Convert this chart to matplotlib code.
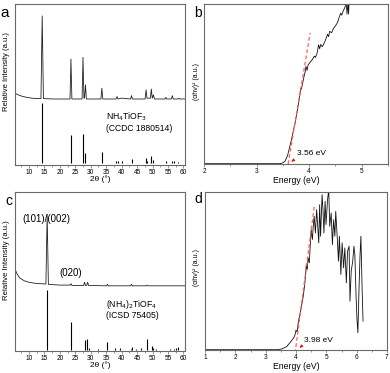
import numpy as np
import matplotlib.pyplot as plt
from matplotlib.ticker import MultipleLocator

plt.rcParams['font.family'] = ['Liberation Sans', 'DejaVu Sans']

# --- a: NH4TiOF3 measured pattern (2theta, relative intensity %) ---
a_exp_x = [5.5, 6.5, 8.0, 10.0, 12.0, 13.9, 14.3, 14.7, 18.0, 21.0, 23.3, 23.6, 23.9,
           27.2, 27.5, 27.8, 28.0, 28.3, 28.6, 31.0, 33.3, 33.6, 33.9, 36.0, 38.2, 38.5,
           38.8, 40.0, 42.9, 43.2, 43.5, 45.5, 47.6, 47.9, 48.2, 49.3, 49.6, 49.9, 50.3,
           50.6, 52.0, 54.0, 54.3, 54.6, 56.1, 56.4, 56.7, 58.2, 58.5, 58.8, 60.5]
a_exp_y = [7, 5, 3, 1.5, 0.5, 0.5, 100, 0.5, 0, 0, 0, 48, 0,
           0, 50, 1, 1, 17, 0, 0, 0, 13, 0, 0, 0, 3,
           0, 1, 0, 4, 0, 0, 0, 11, 1, 1, 12, 1, 5,
           0, 0, 0, 2, 0, 0, 4, 0, 0, 1, 0, 0]
# --- a: reference sticks, CCDC 1880514 ---
a_ref_x = [14.3, 23.6, 27.5, 28.3, 33.6, 38.3, 38.9, 40.1, 43.2, 47.9, 48.3, 49.6,
           50.3, 54.3, 56.3, 56.8, 58.3]
a_ref_y = [100, 46, 49, 16, 18, 3, 3, 3, 6, 9, 4, 11, 5, 3, 4, 3, 2]

# --- c: (NH4)2TiOF4 measured pattern ---
c_exp_x = [5.5, 6.0, 7.0, 8.5, 10.0, 12.0, 15.5, 15.9, 16.3, 20.0, 23.3, 23.6, 23.9,
           27.7, 28.0, 28.3, 28.7, 29.0, 29.3, 35.1, 35.4, 35.7, 42.9, 43.2, 43.5,
           48.0, 48.3, 48.6, 60.5]
c_exp_y = [24, 18, 11, 7, 5, 3.5, 2.5, 100, 2, 1, 1, 3, 0.5,
           0.5, 5, 0.5, 0.5, 5, 0.5, 0, 2, 0, 0, 2, 0,
           0, 1, 0, 0]
# --- c: reference sticks, ICSD 75405 ---
c_ref_x = [15.9, 23.6, 28.1, 28.7, 29.3, 32.3, 35.4, 37.8, 39.4, 42.9, 43.4, 44.6,
           46.3, 48.3, 49.8, 50.2, 51.2, 55.6, 56.8, 57.6, 58.3]
c_ref_y = [100, 47, 17, 19, 4, 2, 13, 3, 3, 2, 5, 2, 4, 18, 7, 4, 2, 2, 2, 3, 5]

# --- b: Tauc plot NH4TiOF3 ---
b_E = [2.00, 3.44, 3.49, 3.54, 3.59, 3.66, 3.73, 3.79, 3.84, 3.85, 3.87, 3.90, 3.93,
       3.94, 3.96, 3.98, 4.01, 4.06, 4.10, 4.12, 4.15, 4.18, 4.20, 4.22, 4.25, 4.29,
       4.32, 4.35, 4.37, 4.39, 4.43, 4.46, 4.50, 4.54, 4.57, 4.60, 4.62, 4.65, 4.68,
       4.70, 4.71, 4.72, 4.74, 4.75, 4.76]
b_A = [0.002, 0.002, 0.006, 0.017, 0.053, 0.147, 0.253, 0.362, 0.474, 0.467, 0.495,
       0.543, 0.585, 0.611, 0.585, 0.619, 0.632, 0.653, 0.674, 0.666, 0.691, 0.745,
       0.720, 0.747, 0.733, 0.758, 0.783, 0.811, 0.796, 0.829, 0.821, 0.846, 0.863,
       0.884, 0.916, 0.943, 0.930, 0.958, 0.979, 1.002, 0.990, 0.937, 1.010, 0.937, 1.02]
b_fit_E = [3.60, 4.02]
b_fit_A = [0.0, 0.82]
b_gap = 3.56

# --- d: Tauc plot (NH4)2TiOF4 ---
d_E = [1.00, 3.42, 3.55, 3.69, 3.80, 3.92, 3.97, 4.00, 4.04, 4.08, 4.13, 4.15, 4.19,
       4.24, 4.28, 4.31, 4.34, 4.37, 4.40, 4.44, 4.47, 4.50, 4.54, 4.57, 4.60, 4.64,
       4.68, 4.71, 4.75, 4.78, 4.81, 4.86, 4.89, 4.92, 4.96, 4.99, 5.04, 5.08, 5.11,
       5.16, 5.20, 5.24, 5.28, 5.31, 5.36, 5.40, 5.43, 5.48, 5.52, 5.57, 5.61, 5.66,
       5.70, 5.75, 5.78, 5.82, 5.87, 5.91, 5.94, 5.98, 6.01, 6.04, 6.08, 6.11, 6.14,
       6.18, 6.21]
d_A = [0.002, 0.002, 0.008, 0.021, 0.046, 0.076, 0.097, 0.126, 0.114, 0.183, 0.225,
       0.246, 0.288, 0.341, 0.404, 0.457, 0.541, 0.509, 0.583, 0.552, 0.667, 0.762,
       0.699, 0.787, 0.846, 0.741, 0.888, 0.804, 0.678, 0.920, 0.720, 0.983, 0.888,
       0.741, 0.941, 0.794, 0.952, 1.015, 0.783, 0.867, 0.667, 0.825, 0.720, 0.878,
       0.709, 0.562, 0.720, 0.478, 0.678, 0.520, 0.646, 0.425, 0.625, 0.657, 0.309,
       0.499, 0.562, 0.657, 0.604, 0.341, 0.194, 0.109, 0.404, 0.594, 0.720, 0.383,
       0.183]
d_fit_E = [3.97, 4.61]
d_fit_A = [-0.02, 0.92]
d_gap = 3.98

W, H = 390, 373
fig = plt.figure(figsize=(3.9, 3.73), dpi=100)


def box(l, t, r, b):
    return [l / W, 1 - b / H, (r - l) / W, (b - t) / H]


frame = '#6a6a6a'


def style(ax):
    for s in ax.spines.values():
        s.set_color(frame)
        s.set_linewidth(0.8)
    ax.set_yticks([])
    ax.tick_params(axis='x', which='both', direction='out', color=frame,
                   labelsize=4.7, pad=1.2, width=0.5)
    ax.tick_params(axis='x', which='major', length=2)
    ax.tick_params(axis='x', which='minor', length=1.2)


def xrd(ax, ex, ey, rx, ry, e_base, e_scale, r_base, r_scale):
    ax.plot(ex, e_base + np.array(ey) * e_scale / 100, color='#222222', lw=0.6)
    ax.vlines(rx, r_base, r_base + np.array(ry) * r_scale / 100, color='black', lw=0.8)
    ax.set_xlim(5.5, 60.5)
    ax.set_ylim(0, 1)
    ax.xaxis.set_minor_locator(MultipleLocator(2.5))
    ax.set_xticks(np.arange(10, 61, 5))
    ax.set_xlabel('2θ (°)', fontsize=6, labelpad=-0.5)
    style(ax)


def tauc(ax, E, A, fE, fA, gap, xlim, tx, ty, arr_from, arr_to):
    ax.plot(E, A, color='#111111', lw=0.6)
    ax.plot(fE, fA, color='#ff6060', lw=0.9, ls=(0, (3, 2)))
    ax.annotate('', xy=arr_to, xytext=arr_from,
                arrowprops=dict(arrowstyle='-|>', color='red', lw=0.6,
                                mutation_scale=4))
    ax.text(tx, ty, f'{gap:.2f} eV', fontsize=6, va='center', ha='left')
    ax.set_xlim(*xlim)
    ax.set_ylim(0, 1)
    ax.xaxis.set_major_locator(MultipleLocator(1))
    ax.xaxis.set_minor_locator(MultipleLocator(0.5))
    ax.set_xlabel('Energy (eV)', fontsize=6.2, labelpad=0.5)
    style(ax)


ax_a = fig.add_axes(box(15, 4, 185, 165))
xrd(ax_a, a_exp_x, a_exp_y, a_ref_x, a_ref_y, 0.41, 0.516, 0.012, 0.373)
ax_a.text(34.8, 0.30, r'NH$_4$TiOF$_3$', fontsize=6.2, va='center')
ax_a.text(34.8, 0.225, '(CCDC 1880514)', fontsize=6.2, va='center')

ax_c = fig.add_axes(box(15, 192, 185, 351))
xrd(ax_c, c_exp_x, c_exp_y, c_ref_x, c_ref_y, 0.41, 0.45, 0.005, 0.377)
ax_c.text(8.0, 0.83, '(101)/(002)', fontsize=7, va='center')
ax_c.text(23.4, 0.49, '(020)', fontsize=7, va='center', ha='center')
ax_c.text(35.1, 0.295, r'(NH$_4$)$_2$TiOF$_4$', fontsize=6.2, va='center')
ax_c.text(35.1, 0.225, '(ICSD 75405)', fontsize=6.2, va='center')

ax_b = fig.add_axes(box(204, 4, 388, 164))
tauc(ax_b, b_E, b_A, b_fit_E, b_fit_A, b_gap, (2, 5.5), 3.76, 0.065,
     (3.72, 0.028), (3.62, 0.006))

ax_d = fig.add_axes(box(205, 192, 387, 350))
tauc(ax_d, d_E, d_A, d_fit_E, d_fit_A, d_gap, (1, 7), 4.27, 0.057,
     (4.22, 0.03), (4.05, 0.004))

ylab_xrd = 'Relative Intensity (a.u.)'
ylab_tauc = '(αhν)² (a.u.)'
fig.text(7 / W, 1 - 72 / H, ylab_xrd, rotation=90, fontsize=5.5, ha='center', va='center')
fig.text(7 / W, 1 - 260 / H, ylab_xrd, rotation=90, fontsize=5.6, ha='center', va='center')
fig.text(196 / W, 1 - 81 / H, ylab_tauc, rotation=90, fontsize=5, ha='center', va='center')
fig.text(197 / W, 1 - 268 / H, ylab_tauc, rotation=90, fontsize=5, ha='center', va='center')

fig.text(5 / W, 1 - 13 / H, 'a', fontsize=11, ha='center', va='center')
fig.text(198 / W, 1 - 13 / H, 'b', fontsize=10, ha='center', va='center')
fig.text(9 / W, 1 - 201 / H, 'c', fontsize=10, ha='center', va='center')
fig.text(198 / W, 1 - 199 / H, 'd', fontsize=10, ha='center', va='center')

fig.savefig('out.png', dpi=100)
